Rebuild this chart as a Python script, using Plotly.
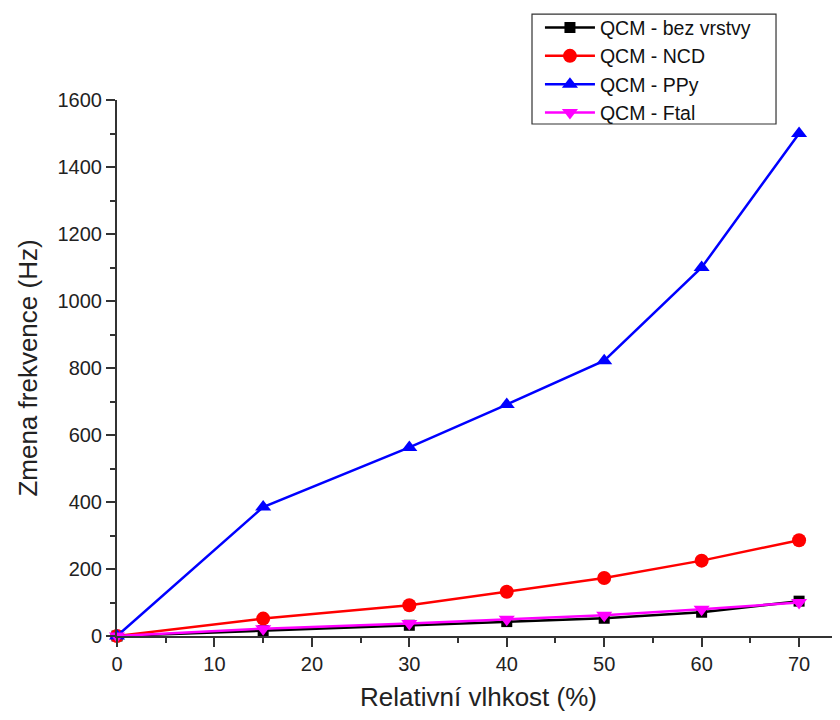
import plotly.graph_objects as go

x_vals = [0, 15, 30, 40, 50, 60, 70]
bez_vrstvy = [0, 16, 32, 43, 53, 71, 104]
ncd = [0, 52, 92, 132, 173, 225, 286]
ppy = [0, 385, 563, 691, 822, 1100, 1500]
ftal = [0, 22, 37, 50, 62, 80, 100]

names = ["QCM - bez vrstvy", "QCM - NCD", "QCM - PPy", "QCM - Ftal"]
series = [bez_vrstvy, ncd, ppy, ftal]
colors = ["#000000", "#ff0000", "#0000ff", "#ff00ff"]
symbols = ["square", "circle", "triangle-up", "triangle-down"]
sizes = [11, 14, 14, 14]

fig = go.Figure()
for name, ys, c, s, sz in zip(names, series, colors, symbols, sizes):
    fig.add_trace(go.Scatter(
        x=x_vals, y=ys, name=name, mode="lines+markers",
        line=dict(color=c, width=2.5),
        marker=dict(color=c, symbol=s, size=sz, line=dict(width=0)),
        cliponaxis=False,
    ))

font_family = "Liberation Sans, Arial, sans-serif"
fig.update_layout(
    width=832, height=712,
    margin=dict(l=109, r=0, t=92, b=84),
    paper_bgcolor="white", plot_bgcolor="white",
    font=dict(family=font_family, color="#222222"),
    showlegend=True,
    legend=dict(
        x=0.585, y=1.171, xanchor="left", yanchor="top",
        borderwidth=0, bgcolor="rgba(0,0,0,0)",
        font=dict(size=19.5, family=font_family, color="#111111"),
        itemwidth=50, tracegroupgap=0,
    ),
    shapes=[dict(
        type="rect", xref="paper", yref="paper",
        x0=0.574, x1=0.9115, y0=0.9552, y1=1.1604,
        line=dict(color="#333333", width=1.2), fillcolor="rgba(0,0,0,0)",
        layer="above",
    )],
    xaxis=dict(
        range=[0, 74.2], showgrid=False, zeroline=False,
        showline=True, linecolor="#333333", linewidth=2,
        ticks="outside", ticklen=9, tickwidth=2, tickcolor="#333333",
        dtick=10, tick0=0,
        tickfont=dict(size=20),
        minor=dict(dtick=5, ticks="outside", ticklen=5, tickwidth=2, tickcolor="#333333"),
        title=dict(text="Relativní vlhkost (%)", font=dict(size=26), standoff=14),
    ),
    yaxis=dict(
        range=[0, 1600], showgrid=False, zeroline=False,
        showline=True, linecolor="#333333", linewidth=2,
        ticks="outside", ticklen=9, tickwidth=2, tickcolor="#333333",
        dtick=200, tick0=0,
        tickfont=dict(size=20),
        minor=dict(dtick=100, ticks="outside", ticklen=5, tickwidth=2, tickcolor="#333333"),
        title=dict(text="Zmena frekvence (Hz)", font=dict(size=26), standoff=12),
    ),
)

fig.write_html("out.html")
